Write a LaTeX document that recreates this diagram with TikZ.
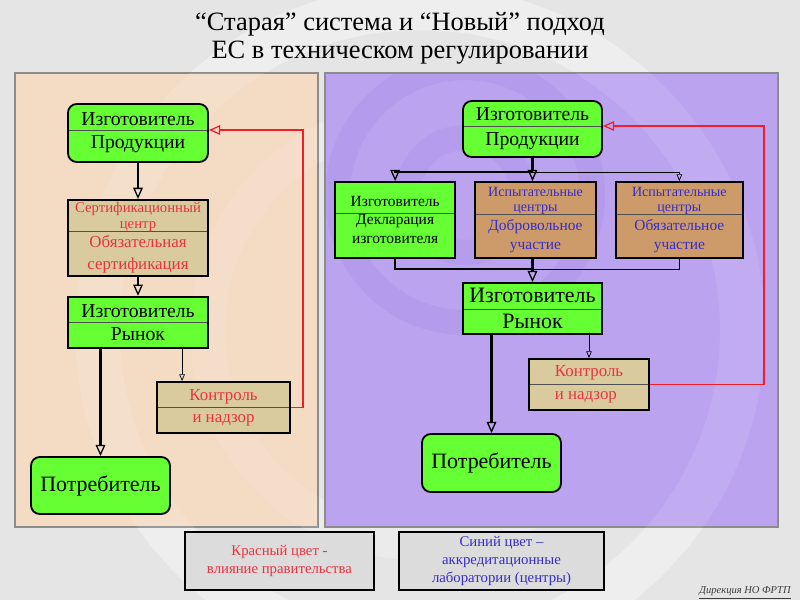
\documentclass[tikz,border=0pt]{standalone}
\usepackage{fontspec}
\setmainfont{Liberation Serif}
\usetikzlibrary{arrows.meta,calc,positioning}

\definecolor{slidegray}{RGB}{229,229,229}
\definecolor{oldpeach}{RGB}{243,219,196}
\definecolor{newlilac}{RGB}{188,163,240}
\definecolor{swirllilac}{RGB}{150,120,220}
\definecolor{panelgray}{RGB}{140,140,140}
\definecolor{makergreen}{RGB}{102,255,51}
\definecolor{bodytan}{RGB}{217,203,158}
\definecolor{labbrown}{RGB}{205,155,105}
\definecolor{govred}{RGB}{232,52,64}
\definecolor{linered}{RGB}{240,30,40}
\definecolor{labblue}{RGB}{55,45,200}
\definecolor{legendgray}{RGB}{220,220,220}
\definecolor{divgray}{RGB}{80,80,80}
\definecolor{footgray}{RGB}{60,60,60}

\tikzset{
    box/.style={
           rectangle,
           draw=black, line width=1.3pt,
           inner sep=0pt,
           align=center},
    greenbox/.style={box, fill=makergreen},
    tanbox/.style={box, fill=bodytan, text=govred},
    brownbox/.style={box, fill=labbrown, text=labblue},
    legendbox/.style={box, fill=legendgray, line width=1.2pt},
    soft/.style={rounded corners=0.22cm},
    divider/.style={path picture={
           \draw[divgray, line width=0.6pt]
             ($(path picture bounding box.north west)!#1!(path picture bounding box.south west)$) --
             ($(path picture bounding box.north east)!#1!(path picture bounding box.south east)$);}},
    link/.style={line width=1.6pt,
           -{Triangle[open, width=0.24cm, length=0.28cm, line width=0.9pt]}},
    thinlink/.style={line width=0.6pt,
           -{Triangle[open, width=0.14cm, length=0.17cm, line width=0.5pt]}},
    govlink/.style={draw=linered, line width=1.3pt,
           -{Triangle[open, width=0.24cm, length=0.28cm, line width=0.9pt]}},
    swirl/.style={even odd rule, opacity=#1},
}

\begin{document}
\begin{tikzpicture}[x=0.025cm, y=-0.025cm]

 % slide and the two panels
 \useasboundingbox (0,0) rectangle (800,600);
 \fill[slidegray] (0,0) rectangle (800,600);
 \fill[white, swirl=0.35] (420,330) circle (345) (420,330) circle (300);
 \fill[white, swirl=0.25] (420,330) circle (230) (420,330) circle (195);
 \filldraw[draw=panelgray, line width=1.2pt, fill=oldpeach] (15,73) rectangle (318,527);
 \filldraw[draw=panelgray, line width=1.2pt, fill=newlilac] (325,73) rectangle (778,527);
 \begin{scope}
  \clip (325,73) rectangle (778,527);
  \fill[swirllilac, swirl=0.18] (465,195) circle (140) (465,195) circle (115);
  \fill[swirllilac, swirl=0.15] (465,195) circle (70) (465,195) circle (45);
  \fill[white, swirl=0.1] (420,330) circle (345) (420,330) circle (300);
 \end{scope}
 \begin{scope}
  \clip (15,73) rectangle (318,527);
  \fill[white, swirl=0.12] (420,330) circle (345) (420,330) circle (300);
  \fill[white, swirl=0.1] (420,330) circle (230) (420,330) circle (195);
 \end{scope}

 \node[align=center,
 font=\fontsize{18.8}{20}\selectfont] (TITLE) at (400,38)
 {“Старая” система и “Новый” подход\\ЕС в техническом регулировании};

 % old system
 \node[greenbox, soft, divider=0.45,
 minimum width=3.5cm, minimum height=1.45cm,
 font=\fontsize{14}{16.4}\selectfont] (MAKERL) at (138,133)
 {Изготовитель\\Продукции};

 \node[tanbox, divider=0.42,
 below=0.9cm of MAKERL,
 minimum width=3.5cm, minimum height=1.9cm,
 font=\fontsize{10.5}{11.4}\selectfont] (CERTL)
 {Сертификационный\\центр\\[2pt]
  {\fontsize{12}{14}\selectfont Обязательная}\\[4pt]
  {\fontsize{12}{14}\selectfont сертификация}};

 \node[greenbox, divider=0.5,
 below=0.475cm of CERTL,
 minimum width=3.5cm, minimum height=1.275cm,
 font=\fontsize{14}{16.4}\selectfont] (MARKETL)
 {Изготовитель\\Рынок};

 \node[tanbox, divider=0.49,
 minimum width=3.325cm, minimum height=1.275cm,
 font=\fontsize{12}{15.6}\selectfont] (CONTROLL) at (223.5,407.5)
 {Контроль\\и надзор};

 \node[greenbox, soft,
 minimum width=3.475cm, minimum height=1.425cm,
 font=\fontsize{15.6}{18}\selectfont] (CONSUMERL) at (100.5,485.5)
 {Потребитель};

 % new approach
 \node[greenbox, soft, divider=0.45,
 minimum width=3.475cm, minimum height=1.4cm,
 font=\fontsize{14}{17.8}\selectfont] (MAKERR) at (532.5,129)
 {Изготовитель\\Продукции};

 \node[brownbox, divider=0.43,
 minimum width=3.025cm, minimum height=1.9cm,
 font=\fontsize{10}{10.7}\selectfont] (VOLR) at (535.5,220)
 {Испытательные\\центры\\[3pt]
  {\fontsize{11}{13}\selectfont Добровольное}\\[2.5pt]
  {\fontsize{11}{13}\selectfont участие}};

 \node[greenbox, divider=0.41,
 left=0.45cm of VOLR,
 minimum width=3cm, minimum height=1.9cm,
 font=\fontsize{11}{13}\selectfont] (DECLR)
 {Изготовитель\\Декларация\\изготовителя};

 \node[brownbox, divider=0.43,
 right=0.45cm of VOLR,
 minimum width=3.175cm, minimum height=1.9cm,
 font=\fontsize{10}{10.7}\selectfont] (MANDR)
 {Испытательные\\центры\\[3pt]
  {\fontsize{11}{13}\selectfont Обязательное}\\[2.5pt]
  {\fontsize{11}{13}\selectfont участие}};

 \node[greenbox, divider=0.51,
 minimum width=3.475cm, minimum height=1.275cm,
 font=\fontsize{15.6}{19}\selectfont] (MARKETR) at (532.5,308.5)
 {Изготовитель\\Рынок};

 \node[tanbox, divider=0.49, align=left,
 minimum width=3cm, minimum height=1.275cm,
 font=\fontsize{12}{16.3}\selectfont] (CONTROLR) at (589,384.5)
 {Контроль\\и надзор};

 \node[greenbox, soft,
 minimum width=3.475cm, minimum height=1.45cm,
 font=\fontsize{15.6}{18}\selectfont] (CONSUMERR) at (491.5,463)
 {Потребитель};

 % legend
 \node[legendbox, text=govred,
 minimum width=4.725cm, minimum height=1.45cm,
 font=\fontsize{10.5}{12.8}\selectfont] (LEGRED) at (279.5,561)
 {Красный цвет -\\влияние правительства};

 \node[legendbox, text=labblue,
 minimum width=5.125cm, minimum height=1.45cm,
 font=\fontsize{10.5}{12.8}\selectfont] (LEGBLUE) at (501.5,561)
 {Синий цвет –\\аккредитационные\\лаборатории (центры)};

 \node[text=footgray,
 font=\fontsize{7.5}{9}\selectfont\itshape] (FOOTER) at (745,593)
 {\underline{Дирекция НО ФРТП}};

 % old system links
 \draw[link] (MAKERL) -- (CERTL);
 \draw[link] (CERTL) -- (MARKETL);
 \draw[link] (CONSUMERL.north |- MARKETL.south) -- (CONSUMERL.north);
 \coordinate (CTLTOPL) at ([xshift=0.65cm]CONTROLL.north west);
 \draw[thinlink] (CTLTOPL |- MARKETL.south) -- (CTLTOPL);
 \draw[govlink] (CONTROLL.east) -- ++(12,0) |- ([yshift=0.075cm]MAKERL.east);

 % new approach links
 \coordinate (FORK) at ([yshift=-0.35cm]MAKERR.south);
 \coordinate (JOIN) at ([yshift=0.325cm]MARKETR.north);
 \draw[link] (MAKERR.south) -- (MAKERR.south |- VOLR.north);
 \draw[link] (FORK) -| (DECLR.north);
 \draw[thinlink] (FORK) -| (MANDR.north);
 \draw[line width=1.6pt] (DECLR.south) |- (JOIN);
 \draw[line width=0.6pt] (MANDR.south) |- (JOIN);
 \draw[link] (MARKETR.north |- VOLR.south) -- (MARKETR.north);
 \draw[link] (CONSUMERR.north |- MARKETR.south) -- (CONSUMERR.north);
 \draw[thinlink] (CONTROLR.north |- MARKETR.south) -- (CONTROLR.north);
 \draw[govlink] (CONTROLR.east) -- ++(114,0) |- ([yshift=0.075cm]MAKERR.east);

\end{tikzpicture}
\end{document}
